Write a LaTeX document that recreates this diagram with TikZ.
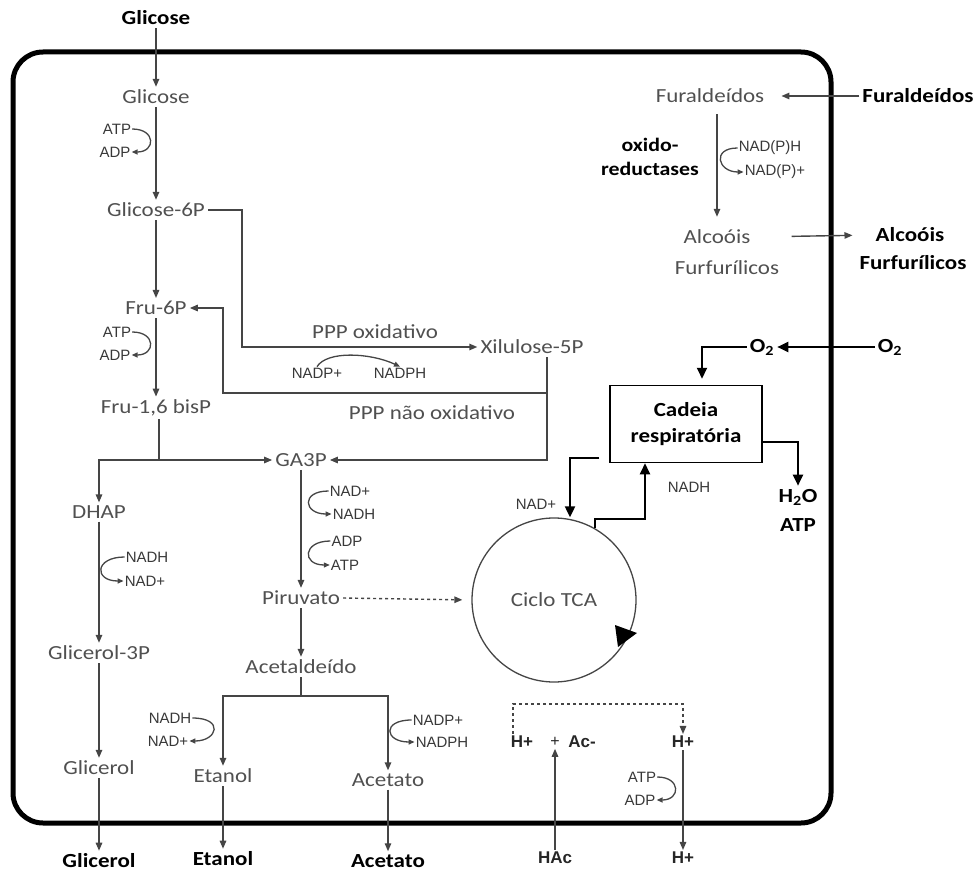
\documentclass[tikz,border=0pt]{standalone}
\usepackage{fontspec}
\setmainfont{Carlito}[FakeStretch=1.15]
\newfontfamily\smallf{Liberation Sans}
\usetikzlibrary{arrows.meta}
\definecolor{txt}{HTML}{505050}
\definecolor{lin}{HTML}{454545}
\begin{document}
\begin{tikzpicture}[x=1pt,y=-1pt,
  lab/.style={font=\fontsize{20}{22}\selectfont, text=txt, inner sep=3pt},
  ext/.style={font=\fontsize{20}{22}\selectfont\bfseries, text=black, inner sep=3pt},
  co/.style={font=\smallf\fontsize{15}{16}\selectfont, text=black!78, inner sep=1pt},
  hp/.style={font=\smallf\fontsize{17}{18}\selectfont\bfseries, text=black!85, inner sep=2pt},
  ln/.style={draw=lin, line width=1.4pt},
  ar/.style={ln, -{Triangle[length=8pt,width=6.5pt]}},
  cof/.style={draw=lin, line width=1.3pt, -{Triangle[length=6pt,width=5pt]}},
  bk/.style={draw=black, line width=2pt, -{Triangle[length=11pt,width=10pt]}},
]
\useasboundingbox (0,0) rectangle (980,872);
% cell frame
\draw[line width=5pt, rounded corners=30pt] (13,52) rectangle (831,823);

% ---- left column
\node[ext] (g0) at (156,18) {Glicose};
\node[lab] (g1) at (156,97) {Glicose};
\node[co] (atp1) at (117,129) {ATP};
\node[co] (adp1) at (115,152) {ADP};
\node[lab] (g6p) at (156,210) {Glicose-6P};
\node[lab] (f6p) at (156,308) {Fru-6P};
\node[co] (atp2) at (117,332) {ATP};
\node[co] (adp2) at (115,355) {ADP};
\node[lab] (fbp) at (156,408) {Fru-1,6 bisP};
\node[lab] (dhap) at (99,512) {DHAP};
\node[co] (nadh3) at (147,557) {NADH};
\node[co] (nad3) at (145,581) {NAD+};
\node[lab] (g3p) at (99,653) {Glicerol-3P};
\node[lab] (gol) at (99,768) {Glicerol};
\node[ext] (golx) at (99,861) {Glicerol};

% ---- middle
\node[lab] (ga3p) at (301,460) {GA3P};
\node[co] (nad4) at (350,491) {NAD+};
\node[co] (nadh4) at (354,514) {NADH};
\node[co] (adp4) at (347,541) {ADP};
\node[co] (atp4) at (345,565) {ATP};
\node[lab] (pir) at (301,598) {Piruvato};
\node[lab] (acet) at (301,667) {Acetaldeído};
\node[co] (nadh5) at (170,718) {NADH};
\node[co] (nad5) at (168,741) {NAD+};
\node[co] (nadp5) at (438,720) {NADP+};
\node[co] (nadph5) at (442,742) {NADPH};
\node[lab] (eta) at (223,776) {Etanol};
\node[lab] (aco) at (388,780) {Acetato};
\node[ext] (etax) at (223,859) {Etanol};
\node[ext] (acox) at (388,861) {Acetato};

% ---- pentose phosphate
\node[lab] (xil) at (532,347) {Xilulose-5P};
\node[lab] (pppo) at (375,332) {PPP oxidativo};
\node[co] (nadp6) at (317,373) {NADP+};
\node[co] (nadph6) at (400,373) {NADPH};
\node[lab] (pppn) at (432,413) {PPP não oxidativo};

% ---- TCA and respiration
\node[circle, draw=lin, line width=1.3pt, minimum size=164pt, lab] (tca) at (554,600) {Ciclo TCA};
\node[draw=black, line width=1.5pt, minimum width=152pt, minimum height=77pt, align=center,
      font=\fontsize{20}{26}\selectfont\bfseries, inner sep=2pt] (cad) at (686,424) {Cadeia\\respiratória};
\node[co] (nad7) at (536,504) {NAD+};
\node[co] (nadh7) at (689,487) {NADH};
\node[ext] (h2o) at (798,497) {H\textsubscript{2}O};
\node[ext] (atp8) at (798,525) {ATP};
\node[ext] (o2i) at (762,347) {O\textsubscript{2}};
\node[ext] (o2o) at (890,347) {O\textsubscript{2}};

% ---- furaldehydes
\node[lab] (furi) at (710,96) {Furaldeídos};
\node[ext] (furx) at (918,96) {Furaldeídos};
\node[ext, align=center, font=\fontsize{19}{24}\selectfont\bfseries] (oxr) at (650,157) {oxido-\\reductases};
\node[co] (nadph9) at (770,148) {NAD(P)H};
\node[co] (nadp9) at (775,172) {NAD(P)+};
\node[lab] (alc1) at (717,237) {Alcoóis};
\node[lab] (alc2) at (727,268) {Furfurílicos};
\node[ext] (alx1) at (910,235) {Alcoóis};
\node[ext] (alx2) at (913,263) {Furfurílicos};

% ---- acetic acid / protons
\node[hp] (hp1) at (522,742) {H+};
\node[hp, font=\smallf\fontsize{16}{17}\selectfont] (plus) at (555,742) {+};
\node[hp] (ac) at (582,742) {Ac-};
\node[hp] (hp2) at (683,742) {H+};
\node[hp] (hpx) at (683,858) {H+};
\node[hp] (hac) at (555,858) {HAc};
\node[co] (atp10) at (642,777) {ATP};
\node[co] (adp10) at (640,800) {ADP};

% ================= connectors
% glycolysis upper part
\draw[ar] (g0) -- (g1);
\draw[ar] (g1) -- (g6p);
\draw[cof] (atp1.east) .. controls +(24,0) and +(24,0) .. (adp1.east);
\draw[ar] (g6p) -- (f6p);
\draw[ar] (f6p) -- (fbp);
\draw[cof] (atp2.east) .. controls +(24,0) and +(24,0) .. (adp2.east);
% oxidative PPP
\draw[ar] (g6p.east) -- ++(34,0) |- (xil.west);
\draw[cof] (nadp6.north) .. controls +(10,-16) and +(-30,-14) .. (nadph6.north);
% non oxidative PPP
\coordinate (x1) at (547,393);
\coordinate (x2) at (223,393);
\draw[ln] ([xshift=15pt]xil.south) -- (x1);
\draw[ar] (x1) -- (x2) |- (f6p.east);
\draw[ar] (x1) |- (ga3p.east);
% aldolase split
\coordinate (j1) at (159,460);
\draw[ln] (fbp.south -| j1) -- (j1);
\draw[ar] (j1) -- (ga3p.west);
\draw[ar] (j1) -| (dhap.north);
% glycerol branch
\draw[ar] (dhap) -- (g3p);
\draw[cof] (nadh3.west) .. controls +(-30,0) and +(-30,0) .. (nad3.west);
\draw[ar] (g3p) -- (gol);
\draw[ar] (gol) -- (golx);
% lower glycolysis
\draw[ar] (ga3p) -- (pir);
\draw[cof] (nad4.west) .. controls +(-28,0) and +(-28,0) .. (nadh4.west);
\draw[cof] (adp4.west) .. controls +(-28,0) and +(-28,0) .. (atp4.west);
\draw[ar, dashed, shorten >=9pt] (pir.east) -- (tca.west);
\draw[ar] (pir) -- (acet);
% fermentation branches
\coordinate (a0) at (301,696);
\draw[ln] (acet.south) -- (a0);
\draw[ar] (a0) -| (eta.north);
\draw[ar] (a0) -| (aco.north);
\draw[cof] (nadh5.east) .. controls +(32,0) and +(28,0) .. (nad5.east);
\draw[cof] (nadp5.west) .. controls +(-30,0) and +(-30,0) .. (nadph5.west);
\draw[ar] (eta) -- (etax);
\draw[ar] (aco) -- (acox);
% TCA / respiration
\fill[black] (615,625) -- (637,633) -- (618,647) -- cycle;
\draw[bk] (tca.60) -- ++(0,-9) -| ([xshift=-41pt]cad.south);
\draw[bk] ([xshift=-10pt,yshift=-34pt]cad.west) -| ([xshift=16pt]tca.north);
\draw[bk, shorten >=6pt] (o2i.west) -| ([xshift=16pt]cad.north);
\draw[bk] (o2o.west) -- (o2i.east);
\draw[bk] ([yshift=-18pt]cad.east) -| (h2o.north);
% furaldehydes
\draw[ar, shorten >=14pt] (furx.west) -- (furi.east);
\draw[ar, shorten <=8pt, shorten >=10pt] ([xshift=7pt]furi.south) -- (alc1.north);
\draw[cof] (nadph9.west) .. controls +(-26,0) and +(-26,0) .. (nadp9.west);
\draw[ar, shorten <=38pt, shorten >=20pt] (alc1.east) -- (alx1.west);
% protons / acetic acid
\draw[ar, dashed] ([xshift=-9pt]hp1.north) -- ++(0,-30) -| (hp2.north);
\draw[ar] (hac.north) -- (plus.south);
\draw[ar] (hp2.south) -- (hpx.north);
\draw[cof] (atp10.east) .. controls +(24,0) and +(24,0) .. (adp10.east);
\end{tikzpicture}
\end{document}
